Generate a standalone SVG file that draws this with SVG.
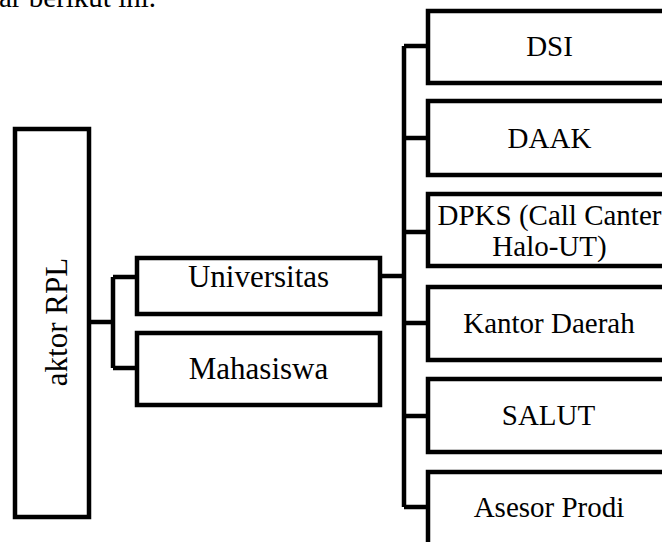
<svg xmlns="http://www.w3.org/2000/svg" width="662" height="542" viewBox="0 0 662 542">
<style>
.box{fill:#fff;stroke:#000;stroke-width:4.5}
.con{fill:none;stroke:#000;stroke-width:4.5}
text{font-family:"Liberation Serif","Times New Roman",serif;fill:#000;text-anchor:middle}
.m{font-size:31px}
.r{font-size:29px}
</style>
<rect width="662" height="542" fill="#fff"/>
<text x="-1" y="6.5" style="font-size:29px;text-anchor:start">ar berikut ini.</text>
<g id="connectors">
<path class="con" d="M89 322H113M113 277V368M113 277H137M113 368H137"/>
<path class="con" d="M380 276H404M404 46V507M404 46H428M404 138H428M404 232H428M404 323H428M404 416H428M404 507H428"/>
</g>
<g id="aktor"><rect class="box" x="15" y="129" width="74" height="388"/><text class="m" transform="translate(67 322) rotate(-90)">aktor RPL</text></g>
<g id="universitas"><rect class="box" x="137" y="258" width="243" height="56"/><text class="m" x="258.5" y="287">Universitas</text></g>
<g id="mahasiswa"><rect class="box" x="137" y="333" width="243" height="72"/><text class="m" x="258.5" y="379">Mahasiswa</text></g>
<g id="dsi"><rect class="box" x="428" y="11" width="260" height="72"/><text class="r" x="549.5" y="56">DSI</text></g>
<g id="daak"><rect class="box" x="428" y="101" width="260" height="74"/><text class="r" x="549.5" y="148">DAAK</text></g>
<g id="dpks"><rect class="box" x="428" y="194" width="260" height="72"/><text class="r" x="549.5" y="225">DPKS (Call Canter</text><text class="r" x="549.5" y="256">Halo-UT)</text></g>
<g id="kantor"><rect class="box" x="428" y="287" width="260" height="73"/><text class="r" x="549" y="333">Kantor Daerah</text></g>
<g id="salut"><rect class="box" x="428" y="379" width="260" height="73"/><text class="r" x="548.5" y="425">SALUT</text></g>
<g id="asesor"><rect class="box" x="428" y="472" width="260" height="80"/><text class="r" x="549" y="517">Asesor Prodi</text></g>
</svg>
